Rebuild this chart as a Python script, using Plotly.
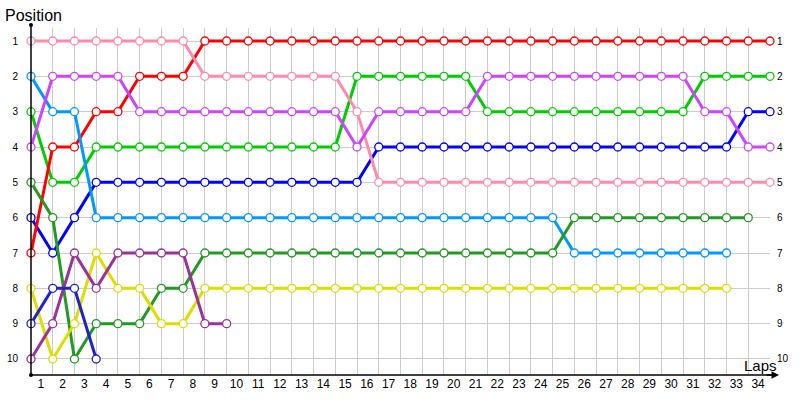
import plotly.graph_objects as go

# Lap-by-lap positions (index = lap, 0 = start grid)
red = [7, 4, 4, 3, 3, 2, 2, 2] + [1] * 27
pink = [1] * 8 + [2] * 7 + [3] + [5] * 19
light_blue = [2, 3, 3] + [6] * 22 + [7] * 8
purple = [4, 2, 2, 2, 2] + [3] * 10 + [4] + [3] * 5 + [2] * 10 + [3, 3, 4, 4]
green = [3, 5, 5] + [4] * 12 + [2] * 6 + [3] * 10 + [2] * 4
blue = [6, 7, 6] + [5] * 13 + [4] * 17 + [3, 3]
dark_green = [5, 6, 10, 9, 9, 9, 8, 8] + [7] * 17 + [6] * 9
yellow = [8, 10, 9, 7, 8, 8, 9, 9] + [8] * 25
dark_purple = [10, 9, 7, 8, 7, 7, 7, 7, 9, 9]
dark_blue = [9, 8, 8, 10]

lap_labels = [str(i) for i in range(1, 35)]
position_labels = [str(i) for i in range(1, 11)]

series = [
    ("Green", green, "#00CC00"),
    ("Blue", blue, "#0000FF"),
    ("Red", red, "#FF0000"),
    ("Light blue", light_blue, "#0099FF"),
    ("Pink", pink, "#FF8AAA"),
    ("Dark green", dark_green, "#229922"),
    ("Purple", purple, "#CC44FF"),
    ("Yellow", yellow, "#DDDD00"),
    ("Dark purple", dark_purple, "#993399"),
    ("Dark blue", dark_blue, "#2222CC"),
]

W, H = 800, 400
L, R, T, B = 31, 30, 28, 25
pw, ph = W - L - R, H - T - B

def px_x(px):
    return (px - L) / pw

def px_y(py):
    return (H - B - py) / ph

fig = go.Figure()
for name, ys, col in series:
    fig.add_trace(go.Scatter(
        x=list(range(len(ys))), y=ys, name=name, mode="lines+markers",
        line=dict(color=col, width=3),
        marker=dict(symbol="circle", size=8, color="white",
                    line=dict(color=col, width=1.3)),
        showlegend=False, hoverinfo="skip", cliponaxis=False,
    ))

# invisible trace to carry right-side position axis
fig.add_trace(go.Scatter(x=[0], y=[1], yaxis="y2", mode="markers",
                         marker=dict(opacity=0), showlegend=False, hoverinfo="skip"))

font = "Liberation Sans, Arial, sans-serif"
fig.update_layout(
    width=W, height=H,
    margin=dict(l=L, r=R, t=T, b=B, autoexpand=False),
    plot_bgcolor="white", paper_bgcolor="white",
    font=dict(family=font, color="black"),
    xaxis=dict(
        range=[0, 34], tickmode="array", automargin=False,
        tickvals=[i - 0.55 for i in range(1, 35)], ticktext=lap_labels,
        showgrid=False, zeroline=False, showline=False, ticks="",
        tickfont=dict(size=12, family=font),
        minor=dict(tick0=0, dtick=1, showgrid=True, gridcolor="#CCCCCC", gridwidth=1, ticks=""),
    ),
    yaxis=dict(
        range=[10.453, 0.632], tickmode="array", automargin=False,
        tickvals=list(range(1, 11)), ticktext=position_labels,
        showgrid=True, gridcolor="#CCCCCC", gridwidth=1,
        zeroline=False, showline=False, ticks="",
        ticklabelstandoff=12,
        tickfont=dict(size=10, family=font),
    ),
    yaxis2=dict(
        overlaying="y", side="right", matches="y", automargin=False,
        tickmode="array", tickvals=list(range(1, 11)), ticktext=position_labels,
        showgrid=False, zeroline=False, showline=False, ticks="",
        ticklabelstandoff=6,
        tickfont=dict(size=10, family=font),
    ),
)

# axis lines
fig.add_shape(type="line", xref="paper", yref="paper",
              x0=0, x1=0, y0=0, y1=px_y(25), line=dict(color="black", width=1.5))
fig.add_shape(type="line", xref="paper", yref="paper",
              x0=0, x1=px_x(772), y0=0, y1=0, line=dict(color="black", width=1.5))
for yy in (px_y(25), 0):
    fig.add_shape(type="circle", xref="paper", yref="paper",
                  xsizemode="pixel", ysizemode="pixel", xanchor=0, yanchor=yy,
                  x0=-2, x1=2, y0=-2, y1=2, fillcolor="black", line=dict(color="black", width=0))
fig.add_annotation(xref="paper", yref="paper", x=px_x(779), y=0, ax=-14, ay=0,
                   text="", showarrow=True, arrowhead=2, arrowsize=1, arrowwidth=1.5,
                   arrowcolor="black")

fig.add_annotation(xref="paper", yref="paper", x=px_x(3), y=px_y(15),
                   text="Position", showarrow=False, xanchor="left", yanchor="middle",
                   font=dict(size=16, family=font))
fig.add_annotation(xref="paper", yref="paper", x=px_x(742), y=px_y(365),
                   text="Laps", showarrow=False, xanchor="left", yanchor="middle",
                   font=dict(size=15, family=font))

fig.write_html("out.html", config={"displayModeBar": False},
               post_script="document.body.style.margin='0';")
